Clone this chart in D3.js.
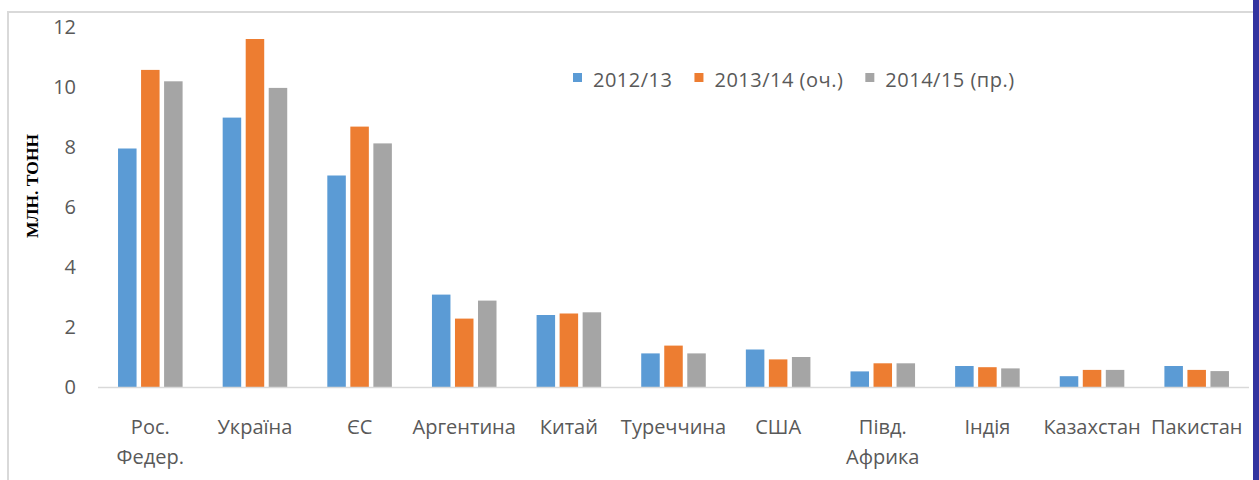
<!DOCTYPE html>
<html>
<head>
<meta charset="utf-8">
<script src="https://cdn.jsdelivr.net/npm/d3@7"></script>
<style>
  html, body { margin: 0; padding: 0; background: #fff; }
  svg { display: block; }
</style>
</head>
<body>
<svg id="chart" width="1259" height="480"></svg>
<script>
// data (млн. тонн)
const categories = ['Рос.\nФедер.', 'Україна', 'ЄС', 'Аргентина', 'Китай', 'Туреччина',
                    'США', 'Півд.\nАфрика', 'Індія', 'Казахстан', 'Пакистан'];
const seriesNames = ['2012/13', '2013/14 (оч.)', '2014/15 (пр.)'];
const values2012 = [7.95, 8.98, 7.05, 3.08, 2.40, 1.12, 1.25, 0.52, 0.70, 0.36, 0.70];
const values2013 = [10.57, 11.60, 8.68, 2.28, 2.45, 1.38, 0.92, 0.79, 0.66, 0.57, 0.57];
const values2014 = [10.19, 9.97, 8.12, 2.88, 2.49, 1.12, 1.00, 0.79, 0.62, 0.57, 0.53];
const yTicks = [0, 2, 4, 6, 8, 10, 12];
const colors = ['#5b9bd5', '#ed7d31', '#a5a5a5'];

const seriesValues = [values2012, values2013, values2014];
const textFont = '"Open Sans", sans-serif';
const textColor = '#595959';

const svg = d3.select('#chart');

// frame + the blue slide edge on the right
svg.append('rect')
    .attr('x', 8).attr('y', 12)
    .attr('width', 1300).attr('height', 600)
    .attr('fill', '#fff')
    .attr('stroke', '#d9d9d9')
    .attr('stroke-width', 2);
svg.append('rect')
    .attr('x', 1253).attr('y', 0)
    .attr('width', 6).attr('height', 480)
    .attr('fill', '#3333a0');

const x0 = d3.scaleBand()
    .domain(d3.range(categories.length))
    .range([98, 1249])
    .padding(0);

const groupW = x0.step() * 0.617;
const x1 = d3.scaleBand()
    .domain(d3.range(seriesNames.length))
    .range([0, groupW])
    .paddingInner(0.196)
    .paddingOuter(0);

const y = d3.scaleLinear()
    .domain([0, 12])
    .range([387, 27]);

// y tick labels (no grid lines)
svg.append('g')
    .selectAll('text')
    .data(yTicks)
    .join('text')
    .attr('x', 76)
    .attr('y', d => y(d))
    .attr('dy', '0.35em')
    .attr('text-anchor', 'end')
    .attr('font-family', textFont)
    .attr('font-size', 20)
    .attr('fill', textColor)
    .text(d => d);

// y axis title
svg.append('text')
    .attr('transform', 'translate(38,186) rotate(-90)')
    .attr('text-anchor', 'middle')
    .attr('font-family', '"Liberation Serif", "Times New Roman", serif')
    .attr('font-weight', 'bold')
    .attr('font-size', 17.5)
    .attr('fill', '#000')
    .text('МЛН. ТОНН');

// bars
const groups = svg.append('g')
    .selectAll('g')
    .data(categories.map((c, i) => i))
    .join('g')
    .attr('transform', i => `translate(${x0(i) + (x0.bandwidth() - groupW) / 2},0)`);

groups.selectAll('rect')
    .data(i => seriesValues.map((vals, s) => ({ s, v: vals[i] })))
    .join('rect')
    .attr('x', d => x1(d.s))
    .attr('y', d => y(d.v))
    .attr('width', x1.bandwidth())
    .attr('height', d => y(0) - y(d.v))
    .attr('fill', d => colors[d.s]);

// baseline
svg.append('line')
    .attr('x1', 98).attr('x2', 1249)
    .attr('y1', y(0) + 0.5).attr('y2', y(0) + 0.5)
    .attr('stroke', '#d9d9d9')
    .attr('stroke-width', 1.5);

// category labels
svg.append('g')
    .selectAll('text')
    .data(categories)
    .join('text')
    .attr('x', (d, i) => x0(i) + x0.bandwidth() / 2)
    .attr('y', 434)
    .attr('text-anchor', 'middle')
    .attr('font-family', textFont)
    .attr('font-size', 20)
    .attr('fill', textColor)
    .each(function (d) {
        const t = d3.select(this);
        d.split('\n').forEach((line, k) => {
            t.append('tspan')
                .attr('x', t.attr('x'))
                .attr('dy', k === 0 ? 0 : 30)
                .text(line);
        });
    });

// legend
const legend = svg.append('g');
let lx = 573;
seriesNames.forEach((name, s) => {
    legend.append('rect')
        .attr('x', lx).attr('y', 73)
        .attr('width', 9).attr('height', 9)
        .attr('fill', colors[s]);
    const t = legend.append('text')
        .attr('x', lx + 20)
        .attr('y', 87)
        .attr('font-family', textFont)
        .attr('font-size', 20)
        .attr('letter-spacing', 0.5)
        .attr('fill', textColor)
        .text(name);
    lx += 20 + t.node().getComputedTextLength() + 22;
});
</script>
</body>
</html>
